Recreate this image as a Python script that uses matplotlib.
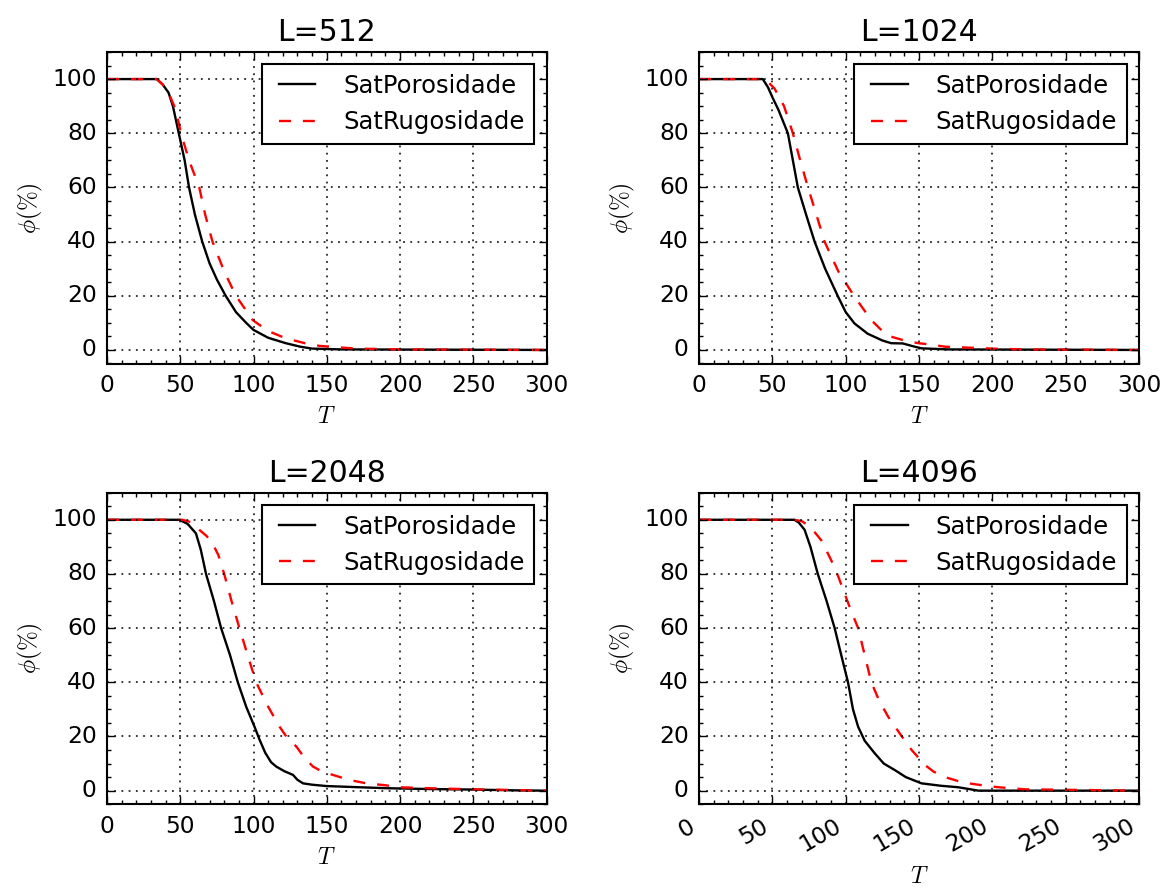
import matplotlib
matplotlib.use("Agg")
import matplotlib.pyplot as plt

plt.style.use("classic")
plt.rcParams.update({
    "figure.facecolor": "white",
    "savefig.facecolor": "white",
    "font.family": ["DejaVu Sans"],
    "mathtext.fontset": "cm",
    "lines.scale_dashes": False,
})

titles = ["L=512", "L=1024", "L=2048", "L=4096"]
labels = ["SatPorosidade", "SatRugosidade"]

# L=512
t_por_512 = [0, 34, 38, 42, 45, 49, 53, 56, 60, 65, 70, 75, 81, 88, 95, 100, 110, 122, 132, 140, 160, 300]
p_por_512 = [100, 100, 98, 95, 90, 80, 70, 60, 50, 40, 32, 26, 20, 14, 10, 7.4, 4.5, 2.5, 1.2, 0.5, 0.2, 0]
t_rug_512 = [0, 34, 38, 42, 47, 50.5, 56, 63, 67, 72, 80, 88, 99.5, 110, 122, 135, 145, 170, 200, 300]
p_rug_512 = [100, 100, 98, 95, 88.6, 80, 70, 60, 50, 40, 29, 20, 11, 7, 4.3, 2.5, 1.5, 0.5, 0.2, 0]

# L=1024
t_por_1024 = [0, 43.5, 47, 50.3, 54.2, 60.6, 64, 67.4, 73, 78.8, 86, 94.8, 100, 106, 115, 125, 131, 139, 145, 151.7, 170, 300]
p_por_1024 = [100, 100, 97, 93, 88.6, 80, 70, 60, 50, 40, 30, 19.7, 14, 9.8, 6, 3.5, 2.5, 2.4, 1.5, 0.6, 0.2, 0]
t_rug_1024 = [0, 43.5, 47, 51.5, 58, 64, 69, 74.3, 80, 85.6, 95, 106, 117.5, 125, 131, 140, 149.5, 158, 167.7, 200, 220, 300]
p_rug_1024 = [100, 100, 99, 96.5, 90, 80, 70, 60, 50, 40, 29, 19.7, 11, 7, 4.9, 3.5, 2.5, 2.0, 1.2, 0.5, 0.2, 0]

# L=2048
t_por_2048 = [0, 49.3, 55, 60.7, 64, 67.6, 73, 77.9, 84, 89.3, 95, 100.7, 104, 108, 112, 115.5, 121, 127, 130, 133.8, 140, 149.8, 170, 190.9, 220, 250, 280, 300]
p_por_2048 = [100, 100, 98.5, 95, 89, 80, 70, 60, 50, 40, 31, 23.6, 19, 14, 10.5, 8.9, 7.2, 5.8, 4, 2.7, 2.2, 1.7, 1.3, 0.9, 0.6, 0.4, 0.1, 0]
t_rug_2048 = [0, 51.5, 58, 63, 68, 72, 76, 80, 85, 90.4, 96, 101.8, 110, 117.8, 123, 129.2, 135, 140.6, 147, 154.3, 165, 177, 190, 200, 220, 250, 280, 300]
p_rug_2048 = [100, 100, 99, 96.3, 94, 91.3, 87, 80, 70, 60, 50, 40, 31, 23.6, 19.5, 16.3, 12, 8.9, 7, 5.8, 4, 2.7, 2, 1.25, 0.9, 0.5, 0.2, 0]

# L=4096
t_por_4096 = [0, 65, 68, 72, 76, 81, 87, 92.5, 97, 101.6, 105, 108.5, 113, 119.8, 126, 133.5, 141, 151.7, 165, 176.8, 190.5, 300]
p_por_4096 = [100, 100, 99, 96.3, 90, 80, 70, 60, 50, 40, 30, 23.6, 18.4, 13.8, 10, 7.6, 5, 2.7, 1.8, 1.25, 0, 0]
t_rug_4096 = [0, 65, 70, 74.3, 78, 83.4, 90.2, 95, 99.3, 104, 108.5, 113, 117.5, 123, 129, 137, 145, 154, 160, 167.7, 180, 199.5, 210, 222, 300]
p_rug_4096 = [100, 100, 99.5, 98, 96, 92.4, 85, 79, 72.7, 66, 60, 50, 40, 33, 27.3, 21, 15, 9.5, 7, 5, 3, 1.5, 1, 0.5, 0]

panels = [
    (t_por_512, p_por_512, t_rug_512, p_rug_512),
    (t_por_1024, p_por_1024, t_rug_1024, p_rug_1024),
    (t_por_2048, p_por_2048, t_rug_2048, p_rug_2048),
    (t_por_4096, p_por_4096, t_rug_4096, p_rug_4096),
]

fig = plt.figure(figsize=(11.65, 8.91), dpi=100)
W, H = 1165.0, 891.0
positions = [
    (107 / W, 1 - 363.5 / H, 439.5 / W, 311.5 / H),
    (699 / W, 1 - 363.5 / H, 440 / W, 311.5 / H),
    (107 / W, 1 - 804.2 / H, 439.5 / W, 311.5 / H),
    (699 / W, 1 - 804.2 / H, 440 / W, 311.5 / H),
]

for i, (pos, title, (tp, pp, tr, pr)) in enumerate(zip(positions, titles, panels)):
    ax = fig.add_axes(pos)
    ax.plot(tp, pp, color="black", lw=1.7, label=labels[0])
    ax.plot(tr, pr, color="red", lw=1.7, ls=(0, (8.6, 8.6)), label=labels[1])
    ax.set_xlim(0, 300)
    ax.set_ylim(-5, 110)
    ax.set_xticks([0, 50, 100, 150, 200, 250, 300])
    ax.set_yticks([0, 20, 40, 60, 80, 100])
    ax.minorticks_on()
    ax.grid(True, which="major", color="black", ls=(0, (1.3, 3.9)), lw=1.1)
    ax.tick_params(which="major", length=5.6, width=1.0, labelsize=16.8, pad=7.5, direction="in",
                   top=True, right=True)
    ax.tick_params(which="minor", length=2.8, width=1.0, direction="in", top=True, right=True)
    for s in ax.spines.values():
        s.set_linewidth(1.5)
    ax.set_title(title, fontsize=21.5, pad=8)
    ax.set_xlabel(r"$T$", fontsize=17)
    ax.set_ylabel(r"$\phi(\%)$", fontsize=17)
    leg = ax.legend(loc="upper right", fontsize=17.5, handlelength=2.1, handletextpad=0.85,
                    borderpad=0.4, labelspacing=0.5, numpoints=2, fancybox=False)
    leg.get_frame().set_linewidth(1.5)
    leg.get_frame().set_edgecolor("black")
    if i == 3:
        for lab in ax.get_xticklabels():
            lab.set_rotation(30)
            lab.set_ha("right")

fig.savefig("out.png", dpi=100)
